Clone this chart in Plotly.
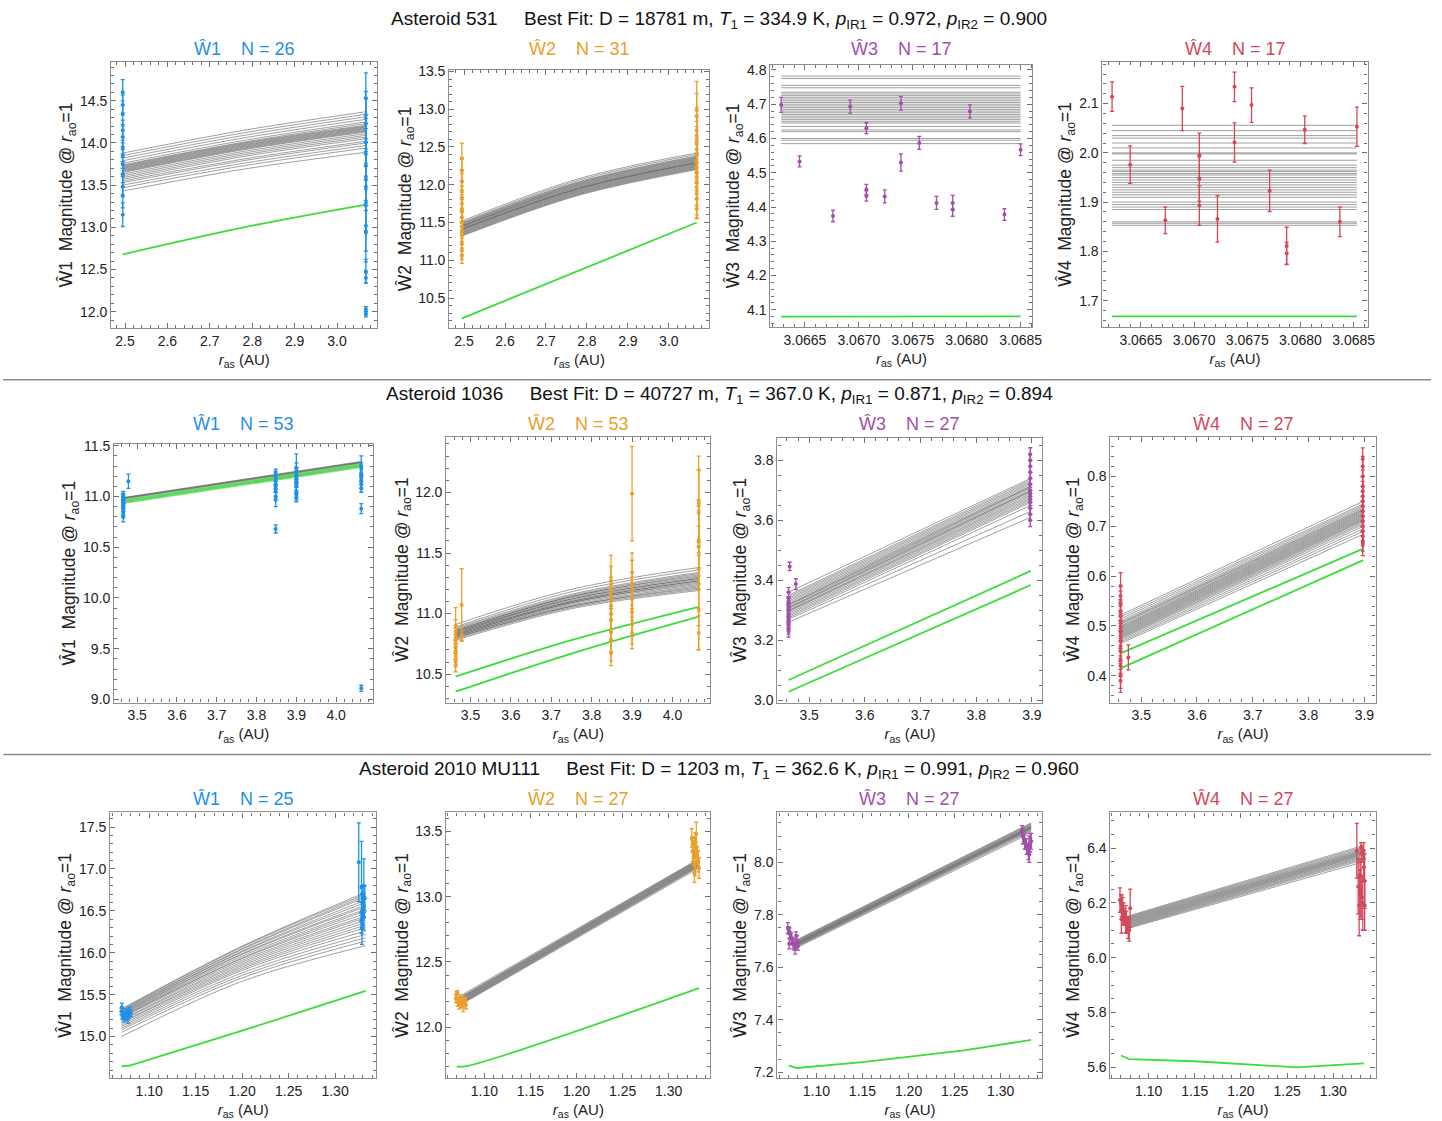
import plotly.graph_objects as go

W, H = 1442, 1121

# ---------------- text ----------------
NB = "\u00a0"
ROW_TITLES = [
    "Asteroid 531" + NB * 5 + "Best Fit: D = 18781 m, <i>T</i><sub>1</sub> = 334.9 K, <i>p</i><sub>IR1</sub> = 0.972, <i>p</i><sub>IR2</sub> = 0.900",
    "Asteroid 1036" + NB * 5 + "Best Fit: D = 40727 m, <i>T</i><sub>1</sub> = 367.0 K, <i>p</i><sub>IR1</sub> = 0.871, <i>p</i><sub>IR2</sub> = 0.894",
    "Asteroid 2010 MU111" + NB * 5 + "Best Fit: D = 1203 m, <i>T</i><sub>1</sub> = 362.6 K, <i>p</i><sub>IR1</sub> = 0.991, <i>p</i><sub>IR2</sub> = 0.960",
]
BANDS = ["Ŵ1", "Ŵ2", "Ŵ3", "Ŵ4"]
COUNTS = [[26, 31, 17, 17], [53, 53, 27, 27], [25, 27, 27, 27]]

# ---------------- Row 1 : Asteroid 531 ----------------
R1_W1_x = [2.4946] * 12 + [3.0680] * 15
R1_W1_y = [14.60, 14.45, 14.35, 14.15, 14.07, 13.95, 13.85, 13.75, 13.63, 13.48, 13.38, 13.15,
           14.53, 14.33, 14.23, 14.01, 13.87, 13.73, 13.60, 13.48, 13.26, 13.02, 12.94, 12.48, 12.40, 12.03, 11.97]
R1_W1_err = [0.15, 0.12, 0.15, 0.12, 0.15, 0.12, 0.15, 0.12, 0.15, 0.12, 0.15, 0.14,
             0.30, 0.28, 0.30, 0.28, 0.30, 0.28, 0.30, 0.28, 0.30, 0.30, 0.35, 0.14, 0.06, 0.03, 0.03]
R1_W1_gray_x = [2.4946, 2.78, 3.068]
R1_W1_gray_start = [13.88, 13.85, 13.82, 13.79, 13.76, 13.74, 13.73, 13.72, 13.71, 13.70, 13.69, 13.68,
                    13.67, 13.66, 13.65, 13.63, 13.61, 13.59, 13.57, 13.55, 13.53, 13.50, 13.47, 13.43]
R1_W1_gray_mid = [14.15, 14.12, 14.09, 14.06, 14.03, 14.01, 14.00, 13.99, 13.98, 13.97, 13.96, 13.95,
                  13.94, 13.93, 13.92, 13.90, 13.88, 13.86, 13.84, 13.81, 13.79, 13.76, 13.73, 13.69]
R1_W1_gray_end = [14.37, 14.34, 14.31, 14.28, 14.25, 14.23, 14.21, 14.20, 14.19, 14.18, 14.17, 14.16,
                  14.15, 14.14, 14.13, 14.11, 14.09, 14.07, 14.05, 14.02, 14.00, 13.97, 13.94, 13.89]
R1_W1_green_x = [2.4946, 2.78, 3.068]
R1_W1_green_y = [[12.68, 13.00, 13.27]]

R1_W2_x = [2.4946] * 15 + [3.0680] * 16
R1_W2_y = [12.35, 12.19, 12.05, 11.92, 11.83, 11.75, 11.66, 11.57, 11.50, 11.44, 11.39, 11.33, 11.22, 11.13, 11.06,
           12.99, 12.91, 12.72, 12.65, 12.56, 12.47, 12.39, 12.30, 12.23, 12.17, 12.10, 12.03, 11.97, 11.88, 11.81, 11.68]
R1_W2_err = [0.20, 0.15, 0.15, 0.12, 0.15, 0.12, 0.15, 0.12, 0.15, 0.12, 0.10, 0.12, 0.15, 0.12, 0.10,
             0.38, 0.30, 0.30, 0.25, 0.28, 0.30, 0.25, 0.28, 0.30, 0.25, 0.28, 0.30, 0.25, 0.28, 0.25, 0.13]
R1_W2_gray_x = [2.4946, 2.78, 3.068]
R1_W2_gray_start = [11.52, 11.50, 11.49, 11.48, 11.47, 11.46, 11.45, 11.45, 11.44, 11.43, 11.42,
                    11.41, 11.41, 11.40, 11.39, 11.38, 11.37, 11.36, 11.35, 11.34, 11.33, 11.32]
R1_W2_gray_mid = [12.08, 12.06, 12.04, 12.03, 12.02, 12.01, 12.00, 11.99, 11.98, 11.97, 11.96,
                  11.95, 11.95, 11.94, 11.93, 11.92, 11.91, 11.90, 11.89, 11.88, 11.87, 11.86]
R1_W2_gray_end = [12.42, 12.40, 12.38, 12.37, 12.36, 12.35, 12.34, 12.33, 12.32, 12.31, 12.30,
                  12.29, 12.29, 12.28, 12.27, 12.26, 12.25, 12.24, 12.23, 12.22, 12.21, 12.20]
R1_W2_green_x = [2.4946, 3.068]
R1_W2_green_y = [[10.23, 11.50]]

R1_W3_x = [3.06628, 3.06645, 3.06676, 3.06692, 3.06707, 3.06707, 3.06707, 3.06724, 3.06739,
           3.06739, 3.06756, 3.06772, 3.06787, 3.06787, 3.06803, 3.06835, 3.06850]
R1_W3_y = [4.698, 4.533, 4.374, 4.693, 4.630, 4.451, 4.432, 4.431, 4.703,
           4.530, 4.587, 4.412, 4.412, 4.393, 4.679, 4.378, 4.567]
R1_W3_err = [0.022, 0.016, 0.017, 0.019, 0.016, 0.015, 0.015, 0.019, 0.020,
             0.025, 0.019, 0.019, 0.022, 0.020, 0.019, 0.017, 0.017]
R1_W3_gray_x = [3.06628, 3.06850]
R1_W3_gray_level = [4.782, 4.775, 4.755, 4.748, 4.735, 4.730, 4.725, 4.720, 4.715, 4.710, 4.705, 4.700,
                    4.695, 4.690, 4.685, 4.680, 4.675, 4.670, 4.665, 4.660, 4.655, 4.650, 4.645, 4.635,
                    4.625, 4.620, 4.600, 4.595, 4.585]
R1_W3_green_x = [3.06628, 3.06850]
R1_W3_green_y = [[4.080, 4.081]]

R1_W4_x = [3.06623, 3.06640, 3.06673, 3.06689, 3.06705, 3.06705, 3.06705, 3.06722, 3.06738,
           3.06738, 3.06754, 3.06771, 3.06787, 3.06787, 3.06804, 3.06837, 3.06853]
R1_W4_y = [2.114, 1.976, 1.863, 2.090, 1.995, 1.947, 1.893, 1.866, 2.134,
           2.021, 2.097, 1.923, 1.811, 1.796, 2.047, 1.860, 2.053]
R1_W4_err = [0.030, 0.038, 0.027, 0.045, 0.045, 0.045, 0.040, 0.047, 0.030,
             0.040, 0.035, 0.042, 0.038, 0.022, 0.028, 0.030, 0.040]
R1_W4_gray_x = [3.06623, 3.06853]
R1_W4_gray_level = [2.056, 2.045, 2.035, 2.030, 2.020, 2.010, 2.000, 1.998, 1.985, 1.975, 1.970,
                    1.965, 1.962, 1.958, 1.955, 1.950, 1.945, 1.940, 1.935, 1.930, 1.925, 1.920,
                    1.915, 1.910, 1.900, 1.895, 1.890, 1.885, 1.860, 1.857, 1.853]
R1_W4_green_x = [3.06623, 3.06853]
R1_W4_green_y = [[1.668, 1.668]]

# ---------------- Row 2 : Asteroid 1036 ----------------
R2_W1_x = [3.465] * 11 + [3.478] + [3.848] * 9 + [3.900] * 10 + [4.063] * 9
R2_W1_y = [11.02, 11.00, 10.98, 10.96, 10.94, 10.92, 10.90, 10.88, 10.85, 10.82, 10.80,
           11.15,
           11.23, 11.20, 11.15, 11.12, 11.08, 11.05, 11.00, 10.97, 10.68,
           11.28, 11.25, 11.22, 11.20, 11.17, 11.14, 11.10, 11.05, 11.02, 10.99,
           11.30, 11.27, 11.22, 11.18, 11.15, 11.12, 11.08, 10.88, 9.11]
R2_W1_err = [0.03, 0.03, 0.04, 0.03, 0.03, 0.04, 0.03, 0.03, 0.04, 0.03, 0.05,
             0.07,
             0.04, 0.05, 0.04, 0.05, 0.04, 0.05, 0.04, 0.07, 0.04,
             0.14, 0.08, 0.07, 0.08, 0.07, 0.08, 0.07, 0.08, 0.07, 0.04,
             0.10, 0.06, 0.07, 0.06, 0.07, 0.08, 0.04, 0.05, 0.03]
R2_W1_gray_x = [3.465, 4.063]
R2_W1_gray_start = [10.990, 10.985, 10.980, 10.975]
R2_W1_gray_end = [11.345, 11.340, 11.335, 11.330]
R2_W1_green_x = [3.465, 4.063]
R2_W1_green_y = [[10.965, 11.320], [10.955, 11.310], [10.945, 11.300], [10.935, 11.290]]

R2_W2_x = [3.463] * 11 + [3.478] * 2 + [3.848] * 9 + [3.900] * 7 + [4.065] * 10
R2_W2_y = [10.90, 10.85, 10.80, 10.78, 10.75, 10.72, 10.70, 10.68, 10.65, 10.62, 10.60,
           11.07, 10.82,
           11.27, 11.19, 11.12, 11.04, 11.00, 10.95, 10.87, 10.78, 10.68,
           11.99, 11.34, 11.24, 11.12, 11.01, 10.91, 10.84,
           11.93, 11.89, 11.83, 11.61, 11.59, 11.55, 11.37, 11.20, 11.04, 10.84]
R2_W2_err = [0.15, 0.10, 0.08, 0.10, 0.08, 0.10, 0.08, 0.10, 0.08, 0.06, 0.08,
             0.30, 0.04,
             0.21, 0.20, 0.18, 0.20, 0.15, 0.18, 0.20, 0.17, 0.11,
             0.39, 0.16, 0.20, 0.18, 0.20, 0.16, 0.13,
             0.37, 0.30, 0.35, 0.30, 0.35, 0.30, 0.35, 0.30, 0.34, 0.14]
R2_W2_gray_x = [3.463, 3.75, 4.065]
R2_W2_gray_start = [10.91, 10.89, 10.88, 10.87, 10.86, 10.86, 10.85, 10.85, 10.84, 10.84,
                    10.83, 10.83, 10.82, 10.82, 10.81, 10.81, 10.80, 10.80, 10.79, 10.78]
R2_W2_gray_mid = [11.20, 11.18, 11.16, 11.15, 11.14, 11.14, 11.13, 11.12, 11.12, 11.11,
                  11.10, 11.10, 11.09, 11.09, 11.08, 11.07, 11.06, 11.06, 11.05, 11.04]
R2_W2_gray_end = [11.38, 11.36, 11.34, 11.33, 11.32, 11.31, 11.30, 11.29, 11.29, 11.28,
                  11.27, 11.27, 11.26, 11.25, 11.24, 11.23, 11.22, 11.21, 11.20, 11.19]
R2_W2_green_x = [3.463, 3.75, 4.065]
R2_W2_green_y = [[10.48, 10.78, 11.055], [10.355, 10.67, 10.975]]

R2_W3_x = [3.463] * 13 + [3.465, 3.476] + [3.897] * 14
R2_W3_y = [3.36, 3.34, 3.33, 3.32, 3.31, 3.30, 3.29, 3.28, 3.27, 3.26, 3.25, 3.24, 3.23,
           3.446, 3.387,
           3.82, 3.80, 3.78, 3.76, 3.74, 3.72, 3.70, 3.69, 3.68, 3.67, 3.66, 3.64, 3.62, 3.60]
R2_W3_err = [0.015, 0.02, 0.015, 0.02, 0.015, 0.02, 0.015, 0.02, 0.015, 0.02, 0.015, 0.02, 0.02,
             0.014, 0.018,
             0.022, 0.02, 0.02, 0.02, 0.02, 0.02, 0.02, 0.02, 0.02, 0.02, 0.02, 0.02, 0.02, 0.021]
R2_W3_gray_x = [3.463, 3.898]
R2_W3_gray_start = [3.360, 3.350, 3.345, 3.340, 3.335, 3.330, 3.325, 3.320, 3.318, 3.315, 3.310,
                    3.308, 3.305, 3.300, 3.298, 3.295, 3.290, 3.285, 3.280, 3.275, 3.270, 3.260]
R2_W3_gray_end = [3.740, 3.735, 3.730, 3.725, 3.720, 3.715, 3.712, 3.710, 3.705, 3.700, 3.698,
                  3.695, 3.690, 3.685, 3.680, 3.675, 3.670, 3.665, 3.660, 3.650, 3.630, 3.610]
R2_W3_green_x = [3.463, 3.898]
R2_W3_green_y = [[3.067, 3.431], [3.028, 3.384]]

R2_W4_x = [3.463] * 16 + [3.477] + [3.897] * 16
R2_W4_y = [0.580, 0.560, 0.545, 0.530, 0.520, 0.510, 0.500, 0.490, 0.480, 0.470, 0.460, 0.450, 0.430, 0.420, 0.400, 0.390,
           0.437,
           0.835, 0.820, 0.800, 0.780, 0.770, 0.760, 0.750, 0.740, 0.730, 0.720, 0.710, 0.700, 0.690, 0.680, 0.670, 0.665]
R2_W4_err = [0.027, 0.020, 0.025, 0.020, 0.025, 0.020, 0.025, 0.020, 0.025, 0.020, 0.025, 0.020, 0.025, 0.020, 0.025, 0.023,
             0.025,
             0.022, 0.020, 0.020, 0.020, 0.020, 0.020, 0.020, 0.020, 0.020, 0.020, 0.020, 0.020, 0.020, 0.020, 0.020, 0.024]
R2_W4_gray_x = [3.463, 3.898]
R2_W4_gray_start = [0.522, 0.518, 0.514, 0.510, 0.507, 0.505, 0.503, 0.500, 0.498, 0.496, 0.494, 0.492,
                    0.490, 0.488, 0.486, 0.484, 0.482, 0.480, 0.478, 0.476, 0.474, 0.471, 0.468, 0.465]
R2_W4_gray_end = [0.750, 0.745, 0.742, 0.739, 0.736, 0.734, 0.732, 0.730, 0.728, 0.726, 0.724, 0.722,
                  0.720, 0.718, 0.716, 0.714, 0.712, 0.710, 0.707, 0.704, 0.700, 0.695, 0.690, 0.684]
R2_W4_green_x = [3.463, 3.898]
R2_W4_green_y = [[0.445, 0.655], [0.415, 0.632]]

# ---------------- Row 3 : Asteroid 2010 MU111 ----------------
R3_W1_x = [1.0700, 1.0710, 1.0720, 1.0730, 1.0740, 1.0750, 1.0760, 1.0770, 1.0780, 1.0790, 1.0800, 1.0705,
           1.3255, 1.3285, 1.3310, 1.3320, 1.3290, 1.3300, 1.3310, 1.3290, 1.3300, 1.3280, 1.3290, 1.3300, 1.3310]
R3_W1_y = [15.30, 15.25, 15.28, 15.22, 15.27, 15.24, 15.29, 15.21, 15.26, 15.31, 15.28, 15.35,
           17.08, 16.78, 16.80, 16.65, 16.70, 16.62, 16.55, 16.50, 16.45, 16.38, 16.30, 16.58, 16.42]
R3_W1_err = [0.04, 0.04, 0.05, 0.04, 0.03, 0.04, 0.04, 0.05, 0.04, 0.04, 0.04, 0.05,
             0.47, 0.55, 0.32, 0.15, 0.10, 0.10, 0.12, 0.10, 0.12, 0.10, 0.20, 0.08, 0.15]
R3_W1_gray_x = [1.070, 1.20, 1.333]
R3_W1_gray_start = [15.33, 15.32, 15.31, 15.30, 15.29, 15.28, 15.27, 15.26, 15.25, 15.24, 15.23,
                    15.22, 15.20, 15.19, 15.17, 15.16, 15.14, 15.12, 15.10, 15.08, 15.05, 15.00]
R3_W1_gray_mid = [16.08, 16.07, 16.05, 16.04, 16.02, 16.01, 15.99, 15.98, 15.96, 15.94, 15.93,
                  15.91, 15.89, 15.87, 15.85, 15.83, 15.81, 15.79, 15.76, 15.73, 15.70, 15.66]
R3_W1_gray_end = [16.72, 16.70, 16.68, 16.66, 16.63, 16.60, 16.57, 16.55, 16.52, 16.50, 16.47,
                  16.44, 16.42, 16.39, 16.36, 16.33, 16.30, 16.26, 16.22, 16.18, 16.14, 16.085]
R3_W1_green_x = [1.070, 1.079, 1.20, 1.333]
R3_W1_green_y = [[14.645, 14.655, 15.07, 15.545]]

R3_W2_x = [1.069, 1.070, 1.071, 1.072, 1.073, 1.074, 1.075, 1.076, 1.077, 1.078, 1.079, 1.080, 1.0705,
           1.325, 1.326, 1.327, 1.328, 1.329, 1.330, 1.331, 1.332, 1.333, 1.326, 1.328, 1.330, 1.332, 1.329]
R3_W2_y = [12.22, 12.25, 12.19, 12.21, 12.17, 12.23, 12.18, 12.20, 12.16, 12.19, 12.21, 12.17, 12.27,
           13.45, 13.35, 13.30, 13.38, 13.25, 13.48, 13.32, 13.28, 13.22, 13.40, 13.18, 13.36, 13.27, 13.42]
R3_W2_err = [0.03, 0.02, 0.03, 0.02, 0.03, 0.02, 0.03, 0.02, 0.04, 0.03, 0.02, 0.03, 0.01,
             0.07, 0.08, 0.06, 0.07, 0.09, 0.09, 0.06, 0.07, 0.08, 0.06, 0.07, 0.06, 0.08, 0.07]
R3_W2_gray_x = [1.076, 1.333]
R3_W2_gray_start = [12.250, 12.240, 12.235, 12.230, 12.225, 12.220, 12.215,
                    12.210, 12.205, 12.200, 12.195, 12.190, 12.185, 12.180]
R3_W2_gray_end = [13.290, 13.285, 13.280, 13.275, 13.270, 13.265, 13.260,
                  13.255, 13.250, 13.245, 13.240, 13.235, 13.230, 13.220]
R3_W2_green_x = [1.070, 1.079, 1.333]
R3_W2_green_y = [[11.70, 11.70, 12.30]]

R3_W3_x = [1.069, 1.070, 1.071, 1.072, 1.073, 1.074, 1.075, 1.076, 1.077, 1.078, 1.079, 1.080, 1.0705,
           1.323, 1.324, 1.325, 1.326, 1.327, 1.328, 1.329, 1.330, 1.331, 1.332, 1.333, 1.330, 1.331, 1.332]
R3_W3_y = [7.75, 7.74, 7.73, 7.72, 7.71, 7.70, 7.69, 7.68, 7.67, 7.72, 7.70, 7.68, 7.69,
           8.12, 8.10, 8.09, 8.08, 8.07, 8.06, 8.05, 8.04, 8.03, 8.06, 8.08, 8.05, 8.07, 8.09]
R3_W3_err = [0.02, 0.015, 0.02, 0.015, 0.02, 0.015, 0.02, 0.015, 0.02, 0.015, 0.02, 0.015, 0.02,
             0.02, 0.03, 0.02, 0.03, 0.02, 0.03, 0.02, 0.03, 0.03, 0.02, 0.03, 0.02, 0.03, 0.02]
R3_W3_gray_x = [1.076, 1.333]
R3_W3_gray_start = [7.700, 7.697, 7.695, 7.692, 7.690, 7.688, 7.686,
                    7.684, 7.682, 7.680, 7.678, 7.676, 7.673, 7.670]
R3_W3_gray_end = [8.150, 8.147, 8.144, 8.141, 8.138, 8.136, 8.134,
                  8.132, 8.130, 8.128, 8.125, 8.122, 8.118, 8.112]
R3_W3_green_x = [1.070, 1.079, 1.15, 1.26, 1.333]
R3_W3_green_y = [[7.225, 7.216, 7.238, 7.283, 7.323]]

R3_W4_x = [1.069, 1.070, 1.071, 1.072, 1.073, 1.074, 1.075, 1.076, 1.077, 1.078, 1.079, 1.080, 1.0705,
           1.3255, 1.327, 1.328, 1.329, 1.330, 1.331, 1.332, 1.333, 1.334, 1.329, 1.331, 1.333, 1.334, 1.330]
R3_W4_y = [6.21, 6.20, 6.19, 6.17, 6.16, 6.15, 6.14, 6.13, 6.12, 6.11, 6.10, 6.18, 6.14,
           6.39, 6.26, 6.19, 6.23, 6.40, 6.38, 6.20, 6.33, 6.28, 6.30, 6.22, 6.39, 6.19, 6.25]
R3_W4_err = [0.045, 0.03, 0.04, 0.05, 0.04, 0.03, 0.05, 0.04, 0.03, 0.04, 0.04, 0.07, 0.05,
             0.10, 0.10, 0.11, 0.09, 0.02, 0.03, 0.10, 0.05, 0.10, 0.06, 0.08, 0.03, 0.09, 0.10]
R3_W4_gray_x = [1.078, 1.333]
R3_W4_gray_start = [6.152, 6.149, 6.146, 6.143, 6.140, 6.137, 6.134, 6.131,
                    6.128, 6.125, 6.122, 6.119, 6.116, 6.113, 6.110, 6.107]
R3_W4_gray_end = [6.410, 6.405, 6.400, 6.396, 6.392, 6.389, 6.386, 6.383,
                  6.380, 6.377, 6.374, 6.370, 6.366, 6.362, 6.357, 6.350]
R3_W4_green_x = [1.070, 1.079, 1.15, 1.26, 1.333]
R3_W4_green_y = [[5.643, 5.630, 5.622, 5.600, 5.614]]

# ---------------- styling / layout config ----------------
BAND_COLORS = ["#1E90E6", "#E9A02A", "#A24FA8", "#D4475A"]
GRAY = "rgba(65,65,65,0.5)"
GREEN = "#3CDC3C"
FONT = "Liberation Sans, Arial, sans-serif"

# pixel frames (left, right, top, bottom) as estimated on the reference
FRAMES = [
    [(113, 379, 59, 325), (451, 711, 67, 325), (772, 1034, 62, 324), (1104, 1369, 59, 324)],
    [(116, 375, 441, 700), (448, 712, 434, 700), (779, 1044, 435, 700), (1112, 1377, 434, 700)],
    [(112, 378, 810, 1076), (448, 712, 810, 1076), (779, 1044, 810, 1076), (1112, 1377, 810, 1076)],
]
TITLE_Y = [17, 392, 768]
SUB_Y = [46, 421, 797]
SEPARATORS_Y = [377, 752]


# calibration of estimated reference pixel positions to page pixels
def cx(v):
    return min(W - 1, (v - 1.8) / 0.9928)


def cy(v):
    return min(H - 1, max(1, (v - 4.0) / 0.99))


panels = [
    dict(r=0, c=0, px=R1_W1_x, py=R1_W1_y, pe=R1_W1_err, gx=R1_W1_gray_x,
         gl=[R1_W1_gray_start, R1_W1_gray_mid, R1_W1_gray_end], grx=R1_W1_green_x, gry=R1_W1_green_y,
         xr=[2.4675, 3.095], yr=[11.81, 14.96], xt=(2.5, 0.1, 0.02, ".1f"), yt=(12.0, 0.5, 0.1, ".1f")),
    dict(r=0, c=1, px=R1_W2_x, py=R1_W2_y, pe=R1_W2_err, gx=R1_W2_gray_x,
         gl=[R1_W2_gray_start, R1_W2_gray_mid, R1_W2_gray_end], grx=R1_W2_green_x, gry=R1_W2_green_y,
         xr=[2.464, 3.099], yr=[10.106, 13.52], xt=(2.5, 0.1, 0.02, ".1f"), yt=(10.5, 0.5, 0.1, ".1f")),
    dict(r=0, c=2, px=R1_W3_x, py=R1_W3_y, pe=R1_W3_err, gx=R1_W3_gray_x,
         gl=[R1_W3_gray_level, R1_W3_gray_level], grx=R1_W3_green_x, gry=R1_W3_green_y,
         xr=[3.06618, 3.06861], yr=[4.0505, 4.8146], xt=(3.0665, 0.0005, 0.0001, ".4f"), yt=(4.1, 0.1, 0.02, ".1f")),
    dict(r=0, c=3, px=R1_W4_x, py=R1_W4_y, pe=R1_W4_err, gx=R1_W4_gray_x,
         gl=[R1_W4_gray_level, R1_W4_gray_level], grx=R1_W4_green_x, gry=R1_W4_green_y,
         xr=[3.06614, 3.06863], yr=[1.647, 2.1845], xt=(3.0665, 0.0005, 0.0001, ".4f"), yt=(1.7, 0.1, 0.02, ".1f")),
    dict(r=1, c=0, px=R2_W1_x, py=R2_W1_y, pe=R2_W1_err, gx=R2_W1_gray_x,
         gl=[R2_W1_gray_start, R2_W1_gray_end], grx=R2_W1_green_x, gry=R2_W1_green_y,
         xr=[3.4424, 4.0933], yr=[8.97, 11.52], xt=(3.5, 0.1, 0.02, ".1f"), yt=(9.0, 0.5, 0.1, ".1f")),
    dict(r=1, c=1, px=R2_W2_x, py=R2_W2_y, pe=R2_W2_err, gx=R2_W2_gray_x,
         gl=[R2_W2_gray_start, R2_W2_gray_mid, R2_W2_gray_end], grx=R2_W2_green_x, gry=R2_W2_green_y,
         xr=[3.44, 4.094], yr=[10.266, 12.46], xt=(3.5, 0.1, 0.02, ".1f"), yt=(10.5, 0.5, 0.1, ".1f")),
    dict(r=1, c=2, px=R2_W3_x, py=R2_W3_y, pe=R2_W3_err, gx=R2_W3_gray_x,
         gl=[R2_W3_gray_start, R2_W3_gray_end], grx=R2_W3_green_x, gry=R2_W3_green_y,
         xr=[3.443, 3.919], yr=[2.992, 3.8756], xt=(3.5, 0.1, 0.02, ".1f"), yt=(3.0, 0.2, 0.05, ".1f")),
    dict(r=1, c=3, px=R2_W4_x, py=R2_W4_y, pe=R2_W4_err, gx=R2_W4_gray_x,
         gl=[R2_W4_gray_start, R2_W4_gray_end], grx=R2_W4_green_x, gry=R2_W4_green_y,
         xr=[3.445, 3.92], yr=[0.3465, 0.8796], xt=(3.5, 0.1, 0.02, ".1f"), yt=(0.4, 0.1, 0.02, ".1f")),
    dict(r=2, c=0, px=R3_W1_x, py=R3_W1_y, pe=R3_W1_err, gx=R3_W1_gray_x,
         gl=[R3_W1_gray_start, R3_W1_gray_mid, R3_W1_gray_end], grx=R3_W1_green_x, gry=R3_W1_green_y,
         xr=[1.058, 1.3444], yr=[14.503, 17.675], xt=(1.10, 0.05, 0.01, ".2f"), yt=(15.0, 0.5, 0.1, ".1f")),
    dict(r=2, c=1, px=R3_W2_x, py=R3_W2_y, pe=R3_W2_err, gx=R3_W2_gray_x,
         gl=[R3_W2_gray_start, R3_W2_gray_end], grx=R3_W2_green_x, gry=R3_W2_green_y,
         xr=[1.0587, 1.3453], yr=[11.61, 13.645], xt=(1.10, 0.05, 0.01, ".2f"), yt=(12.0, 0.5, 0.1, ".1f")),
    dict(r=2, c=2, px=R3_W3_x, py=R3_W3_y, pe=R3_W3_err, gx=R3_W3_gray_x,
         gl=[R3_W3_gray_start, R3_W3_gray_end], grx=R3_W3_green_x, gry=R3_W3_green_y,
         xr=[1.0577, 1.3453], yr=[7.177, 8.19], xt=(1.10, 0.05, 0.01, ".2f"), yt=(7.2, 0.2, 0.05, ".1f")),
    dict(r=2, c=3, px=R3_W4_x, py=R3_W4_y, pe=R3_W4_err, gx=R3_W4_gray_x,
         gl=[R3_W4_gray_start, R3_W4_gray_end], grx=R3_W4_green_x, gry=R3_W4_green_y,
         xr=[1.0587, 1.3458], yr=[5.56, 6.53], xt=(1.10, 0.05, 0.01, ".2f"), yt=(5.6, 0.2, 0.05, ".1f")),
]

fig = go.Figure()
layout = dict(
    width=W, height=H, margin=dict(l=0, r=0, t=0, b=0),
    paper_bgcolor="white", plot_bgcolor="white", showlegend=False,
    font=dict(family=FONT, size=14, color="#222"),
    annotations=[], shapes=[],
)

FRAME_COLOR = "#8c8c8c"
TICK_COLOR = "#6e6e6e"

for i, p in enumerate(panels):
    n = i + 1
    xa = "x" if n == 1 else f"x{n}"
    ya = "y" if n == 1 else f"y{n}"
    color = BAND_COLORS[p["c"]]
    band = BANDS[p["c"]]
    L, R, T, B = FRAMES[p["r"]][p["c"]]
    L, R, T, B = cx(L), cx(R), cy(T), cy(B)
    shape = "spline" if len(p["gx"]) > 2 else "linear"

    # gray bundle of fits
    for vals in zip(*p["gl"]):
        fig.add_trace(go.Scatter(x=p["gx"], y=list(vals), mode="lines", xaxis=xa, yaxis=ya,
                                 line=dict(color=GRAY, width=1, shape=shape), hoverinfo="skip"))
    # green curve(s)
    many = len(p["gry"]) > 2
    for gy in p["gry"]:
        fig.add_trace(go.Scatter(x=p["grx"], y=gy, mode="lines", xaxis=xa, yaxis=ya,
                                 line=dict(color="rgba(40,200,40,0.55)" if many else GREEN,
                                           width=1.8, shape="spline" if len(p["grx"]) == 3 else "linear"),
                                 hoverinfo="skip"))
    # data points with error bars
    fig.add_trace(go.Scatter(x=p["px"], y=p["py"], mode="markers", xaxis=xa, yaxis=ya,
                             marker=dict(color=color, size=4),
                             error_y=dict(type="data", array=p["pe"], visible=True, color=color,
                                          thickness=1.3, width=2)))

    x0, dx, mx, fx = p["xt"]
    y0, dy, my, fy = p["yt"]
    common = dict(showgrid=False, zeroline=False, showline=True, linecolor=FRAME_COLOR, linewidth=1.2,
                  mirror="allticks", ticks="inside", ticklen=5, tickwidth=1, tickcolor=TICK_COLOR,
                  tickfont=dict(size=14, color="#222", family=FONT))
    layout["xaxis" if n == 1 else f"xaxis{n}"] = dict(
        common, domain=[L / W, R / W], range=p["xr"], anchor=ya, tickmode="linear",
        tick0=x0, dtick=dx, tickformat=fx,
        minor=dict(ticks="inside", ticklen=3, tickcolor=TICK_COLOR, tick0=x0, dtick=mx),
        title=dict(text="<i>r</i><sub>as</sub> (AU)", standoff=6, font=dict(size=15, family=FONT, color="#222")))
    layout["yaxis" if n == 1 else f"yaxis{n}"] = dict(
        common, domain=[1 - B / H, 1 - T / H], range=p["yr"], anchor=xa, tickmode="linear",
        tick0=y0, dtick=dy, tickformat=fy,
        minor=dict(ticks="inside", ticklen=3, tickcolor=TICK_COLOR, tick0=y0, dtick=my),
        title=dict(text=f"{band}{NB}{NB}Magnitude @ <i>r</i><sub>ao</sub>=1", standoff=2,
                   font=dict(size=17.5, family=FONT, color="#222")))

    # subplot heading
    layout["annotations"].append(dict(
        text=f"{band}{NB * 4}N = {COUNTS[p['r']][p['c']]}", x=(L + R) / 2 / W, y=1 - cy(SUB_Y[p["r"]]) / H,
        xref="paper", yref="paper", xanchor="center", yanchor="middle", showarrow=False,
        font=dict(size=18, color=color, family=FONT)))

for r, t in enumerate(ROW_TITLES):
    layout["annotations"].append(dict(
        text=t, x=cx(721) / W, y=1 - cy(TITLE_Y[r]) / H, xref="paper", yref="paper", xanchor="center",
        yanchor="middle", showarrow=False, font=dict(size=19, color="#111", family=FONT)))

for sy in SEPARATORS_Y:
    layout["shapes"].append(dict(type="line", xref="paper", yref="paper", x0=cx(5) / W, x1=cx(1437) / W,
                                 y0=1 - cy(sy) / H, y1=1 - cy(sy) / H, line=dict(color="#8a8a8a", width=1.5)))

fig.update_layout(**layout)
PAGE_FIX = (
    "document.documentElement.style.margin='0';document.documentElement.style.overflow='hidden';"
    "document.body.style.margin='0';document.body.style.overflow='hidden';"
)
fig.write_html("out.html", post_script=PAGE_FIX, config={"displayModeBar": False})
